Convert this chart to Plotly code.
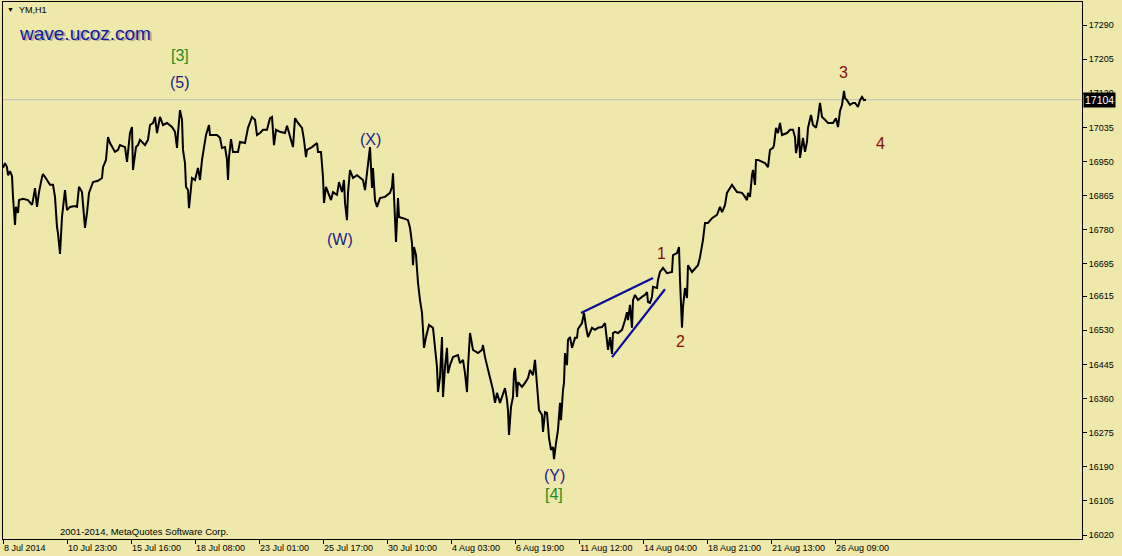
import plotly.graph_objects as go

# ---- data (bar index, close price) ----
bars = [0,2,4,5,7,9,10,12,13,15,16,20,25,29,30,32,34,36,39,40,44,47,50,52,54,55,57,59,62,64,67,72,74,76,79,80,82,84,86,90,95,99,100,103,105,107,112,115,117,122,124,127,129,130,133,135,137,142,145,147,150,152,154,157,160,164,169,172,174,175,177,179,180,182,183,185,186,189,192,195,197,199,201,203,206,207,214,217,219,222,224,225,226,228,230,235,237,242,244,245,249,252,254,257,260,264,267,269,271,273,277,282,284,287,290,292,295,299,301,303,304,309,314,315,318,320,321,323,325,328,330,334,336,339,341,342,344,345,347,350,354,357,360,362,364,365,367,369,370,372,374,377,382,387,389,390,391,392,393,395,396,400,405,407,409,410,411,413,415,417,419,420,421,423,426,430,432,434,435,437,439,440,442,444,445,447,450,455,457,460,462,464,465,467,470,475,479,480,482,485,488,490,492,494,497,499,502,504,505,506,508,510,511,512,514,515,519,522,525,527,530,532,534,536,539,540,542,544,546,548,550,551,553,555,557,558,560,561,562,564,565,567,569,572,574,575,579,581,583,585,589,592,595,599,602,604,605,607,609,610,612,615,619,622,624,625,627,629,630,632,635,639,642,644,645,647,649,650,654,655,657,660,664,669,670,674,676,677,678,679,680,682,684,685,689,692,695,697,700,702,705,709,714,717,719,720,722,724,727,729,734,739,742,744,745,747,749,750,752,753,755,759,762,765,767,770,771,773,775,777,779,784,787,790,792,793,795,796,797,800,802,804,805,808,810,813,815,817,819,822,825,830,833,835,837,839,841,842,844,847,850,852,855,857,859,861,863]
closes = [16934,16946,16936,16916,16926,16914,16862,16792,16837,16822,16854,16857,16854,16842,16854,16884,16837,16874,16911,16919,16904,16892,16892,16862,16787,16772,16720,16812,16879,16829,16837,16839,16837,16887,16874,16837,16785,16822,16872,16899,16902,16909,16936,16954,17011,16996,16974,16979,16991,16986,16949,17021,17036,16929,16986,16991,17004,16991,17004,17041,17046,17061,17021,17061,17041,17046,17036,17024,16984,17021,17078,17054,16979,16946,16887,16879,16834,16909,16904,16934,16904,16954,16984,17016,17041,17016,17016,17009,16984,16986,16954,16904,16961,17006,16974,16974,16999,16996,17021,17034,17061,17054,17016,17021,17029,17029,17058,17061,16991,17029,17024,17021,17039,17009,16986,17058,17046,17034,17004,16961,16979,16986,16996,16974,16974,16911,16847,16887,16872,16854,16874,16867,16899,16874,16904,16847,16804,16872,16929,16909,16916,16911,16904,16879,16924,16954,16986,16884,16934,16854,16837,16859,16862,16872,16887,16921,16847,16797,16750,16859,16812,16809,16804,16785,16747,16692,16737,16717,16648,16605,16573,16531,16486,16513,16543,16536,16488,16438,16376,16413,16513,16364,16438,16486,16423,16443,16463,16468,16448,16456,16423,16376,16438,16523,16481,16473,16481,16493,16463,16431,16401,16381,16349,16374,16349,16364,16386,16356,16331,16269,16339,16364,16423,16436,16364,16401,16389,16399,16411,16431,16418,16456,16394,16331,16319,16277,16326,16324,16262,16232,16239,16209,16249,16282,16349,16306,16381,16399,16473,16443,16506,16513,16486,16511,16511,16533,16548,16573,16538,16513,16536,16531,16536,16538,16548,16506,16481,16513,16471,16523,16526,16523,16531,16555,16575,16555,16593,16536,16605,16618,16605,16613,16618,16625,16600,16598,16613,16638,16635,16655,16675,16685,16672,16675,16717,16722,16737,16655,16588,16536,16588,16635,16610,16692,16675,16685,16692,16712,16755,16797,16797,16809,16817,16837,16824,16829,16842,16872,16884,16892,16874,16872,16862,16854,16872,16862,16916,16929,16892,16954,16954,16949,16946,16936,16979,16984,16991,17034,17021,17046,17016,17021,17029,17029,17011,16971,16996,17036,16959,17009,16974,16999,17034,17066,17041,17034,17058,17096,17061,17054,17046,17046,17058,17036,17076,17091,17126,17108,17103,17091,17096,17096,17086,17103,17111,17103,17104]

current_price = 17104

tick_bars = [0,64,128,192,256,320,384,448,512,576,640,704,768,832]
tick_labels = ["8 Jul 2014","10 Jul 23:00","15 Jul 16:00","18 Jul 08:00","23 Jul 01:00",
               "25 Jul 17:00","30 Jul 10:00","4 Aug 03:00","6 Aug 19:00","11 Aug 12:00",
               "14 Aug 04:00","18 Aug 21:00","21 Aug 13:00","26 Aug 09:00"]
price_ticks = [16020,16105,16190,16275,16360,16445,16530,16615,16695,16780,16865,16950,17035,17120,17205,17290]

# wedge trend lines (bar, price)
upper_line_bars = [578, 650]
upper_line_prices = [16573, 16660]
lower_line_bars = [609, 662]
lower_line_prices = [16463, 16632]

# wave labels: text, bar, price, colour group
wave_labels = ["[3]", "(5)", "(X)", "(W)", "(Y)", "[4]", "1", "2", "3", "4"]
wave_bars = [177, 177, 367, 337, 551, 551, 658, 677, 840, 877]
wave_prices = [17215, 17148, 17004, 16755, 16167, 16122, 16722, 16503, 17173, 16994]
wave_groups = ["green", "navy", "navy", "navy", "navy", "green", "red", "red", "red", "red"]

BG = "#EEE8AA"
colors = {"green": "#1E8C1E", "navy": "#1C1C8A", "red": "#8B0A0A"}
FONT = "Liberation Sans"

W, H = 1122, 556
ml, mr, mt, mb = 3, 40, 2, 17
pw, ph = W - ml - mr, H - mt - mb


def px(xp):
    return (xp - ml) / pw


def py_(yp):
    return 1 - (yp - mt) / ph


fig = go.Figure()

fig.add_trace(go.Scatter(x=bars, y=closes, mode="lines",
                         line=dict(color="black", width=2), hoverinfo="skip",
                         showlegend=False))
fig.add_trace(go.Scatter(x=upper_line_bars, y=upper_line_prices, mode="lines",
                         line=dict(color="#0A0A9C", width=2.2), hoverinfo="skip",
                         showlegend=False))
fig.add_trace(go.Scatter(x=lower_line_bars, y=lower_line_prices, mode="lines",
                         line=dict(color="#0A0A9C", width=2.2), hoverinfo="skip",
                         showlegend=False))

# current price line
fig.add_hline(y=current_price, line=dict(color="#BDBDBD", width=1), layer="below")

for t, bx, pyv, g in zip(wave_labels, wave_bars, wave_prices, wave_groups):
    fig.add_annotation(x=bx, y=pyv, xref="x", yref="y", text=t, showarrow=False,
                       font=dict(family=FONT, size=16, color=colors[g]))

# current price box
fig.add_annotation(x=1.0, y=current_price, xref="paper", yref="y", text="17104",
                   showarrow=False, xanchor="left", xshift=1, bgcolor="black",
                   font=dict(family=FONT, size=10.5, color="white"), borderpad=1)

# header / footer texts (positioned in pixel terms)
fig.add_annotation(x=px(5), y=py_(10), xref="paper", yref="paper", text="▼", showarrow=False,
                   xanchor="left", yanchor="middle", font=dict(size=7, color="black"))
fig.add_annotation(x=px(17), y=py_(10), xref="paper", yref="paper", text="YM,H1", showarrow=False,
                   xanchor="left", yanchor="middle", font=dict(family=FONT, size=9, color="black"))
fig.add_annotation(x=px(19), y=py_(35), xref="paper", yref="paper", text="wave.ucoz.com",
                   showarrow=False, xanchor="left", yanchor="middle",
                   font=dict(family=FONT, size=19, color="#B0AC90"))
fig.add_annotation(x=px(17), y=py_(33), xref="paper", yref="paper", text="wave.ucoz.com",
                   showarrow=False, xanchor="left", yanchor="middle",
                   font=dict(family=FONT, size=19, color="#1414A0"))
fig.add_annotation(x=px(58), y=py_(531), xref="paper", yref="paper",
                   text="2001-2014, MetaQuotes Software Corp.", showarrow=False,
                   xanchor="left", yanchor="middle",
                   font=dict(family=FONT, size=9.5, color="black"))

fig.update_layout(
    width=W, height=H,
    margin=dict(l=ml, r=mr, t=mt, b=mb, pad=0),
    paper_bgcolor=BG, plot_bgcolor=BG,
    showlegend=False,
    font=dict(family=FONT, size=9, color="black"),
    xaxis=dict(range=[0, pw], showgrid=False, zeroline=False,
               tickmode="array", tickvals=tick_bars, ticktext=tick_labels,
               ticks="outside", ticklen=4, tickcolor="black", tickwidth=1,
               ticklabelposition="outside right",
               showline=True, linecolor="black", linewidth=1, mirror=True,
               tickfont=dict(family=FONT, size=9, color="black")),
    yaxis=dict(range=[16010.1, 17347.3], side="right", showgrid=False, zeroline=False,
               tickmode="array", tickvals=price_ticks, ticktext=[str(v) for v in price_ticks],
               ticks="outside", ticklen=4, tickcolor="black", tickwidth=1,
               showline=True, linecolor="black", linewidth=1, mirror=True,
               tickfont=dict(family=FONT, size=9, color="black")),
)

fig.write_html("out.html", config={"displayModeBar": False},
               post_script="document.body.style.margin='0';document.body.style.overflow='hidden';")
